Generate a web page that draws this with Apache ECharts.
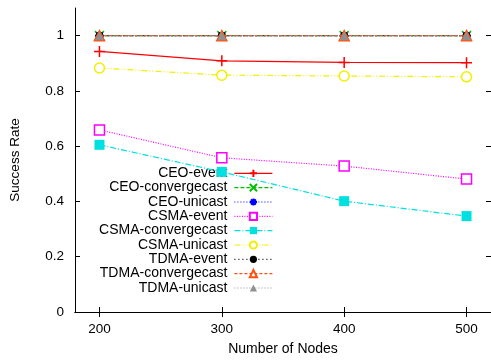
<!DOCTYPE html>
<html><head><meta charset="utf-8">
<script src="https://cdn.jsdelivr.net/npm/echarts@6/dist/echarts.min.js"></script>
<style>html,body{margin:0;padding:0;background:#fff}#c{width:491px;height:361px}</style>
</head><body><div id="c"></div>
<script>
const nodes = [200, 300, 400, 500];
const xTicks = [200, 300, 400, 500];
const yTicks = [0, 0.2, 0.4, 0.6, 0.8, 1];
const ceoEvent = [0.943, 0.909, 0.903, 0.902];
const ceoConverge = [1, 1, 1, 1];
const ceoUnicast = [1, 1, 1, 1];
const csmaEvent = [0.659, 0.558, 0.528, 0.481];
const csmaConverge = [0.605, 0.507, 0.401, 0.347];
const csmaUnicast = [0.883, 0.857, 0.854, 0.851];
const tdmaEvent = [1, 1, 1, 1];
const tdmaConverge = [1, 1, 1, 1];
const tdmaUnicast = [1, 1, 1, 1];
const seriesNames = ['CEO-event','CEO-convergecast','CEO-unicast','CSMA-event','CSMA-convergecast','CSMA-unicast','TDMA-event','TDMA-convergecast','TDMA-unicast'];
const seriesData = [ceoEvent, ceoConverge, ceoUnicast, csmaEvent, csmaConverge, csmaUnicast, tdmaEvent, tdmaConverge, tdmaUnicast];

const PLUS = 'path://M0,5L10,5M5,0L5,10';
const CROSS = 'path://M0,0L10,10M10,0L0,10';
const STAR = 'path://M0,5L10,5M5,0L5,10M1.5,1.5L8.5,8.5M8.5,1.5L1.5,8.5';
const styles = [
  {c:'#ff0000', t:'solid', sym:PLUS, size:11, open:'stroke'},
  {c:'#00c000', t:[4,2], sym:CROSS, size:9, open:'stroke'},
  {c:'#0000ff', t:[1,2], sym:STAR, size:9, open:'stroke'},
  {c:'#ff00ff', t:[1,1.5], sym:'rect', size:10, open:'open'},
  {c:'#00e0e0', t:[6,2,1,2], sym:'rect', size:10, open:'fill'},
  {c:'#f0f000', t:[6,2,1,2,1,2], sym:'circle', size:10, open:'open'},
  {c:'#000000', t:[1,3], sym:'circle', size:8, open:'fill'},
  {c:'#ff5010', t:[3,2], sym:'triangle', size:10, open:'open'},
  {c:'#909090', t:[1,2], sym:'triangle', size:9, open:'fill'}
];

const series = seriesNames.map((n, i) => {
  const s = styles[i];
  let itemStyle;
  if (s.open === 'stroke') itemStyle = {color: s.c, borderColor: s.c, borderWidth: 1.5};
  else if (s.open === 'open') itemStyle = {color: '#ffffff', borderColor: s.c, borderWidth: 1.5};
  else itemStyle = {color: s.c, borderWidth: 0};
  return {
    name: n, type: 'line', xAxisIndex: 0, yAxisIndex: 0,
    data: nodes.map((x, k) => [x, seriesData[i][k]]),
    symbol: s.sym, symbolSize: s.size, showAllSymbol: true,
    lineStyle: {color: s.c, width: 1.2, type: s.t},
    itemStyle: itemStyle,
    emphasis: {disabled: true},
    animation: false, z: 2 + i
  };
});

const legendCenters = [173.3, 187.6, 202, 216.3, 230.6, 245, 259.3, 273.6, 288];
const legends = seriesNames.map((n, i) => ({
  data: [n], orient: 'vertical', align: 'right', right: 218, top: legendCenters[i] - 7,
  padding: 0, itemWidth: 38, itemHeight: 9, selectedMode: false,
  lineStyle: {width: 1.2},
  textStyle: {fontFamily: 'Liberation Sans', fontSize: 14, color: '#000', lineHeight: 14, padding: [0, 2, 0, 0]},
  backgroundColor: 'transparent'
}));

const axLine = {show: true, lineStyle: {color: '#000', width: 1}};
const opt = {
  animation: false,
  backgroundColor: '#fff',
  grid: {left: 73, top: 8, right: -4, bottom: 49, containLabel: false},
  legend: legends,
  xAxis: [
    {type: 'value', min: 180, max: 520, position: 'bottom',
     axisLine: axLine, splitLine: {show: false},
     axisTick: {show: true, inside: true, length: 5, customValues: xTicks, lineStyle: {color: '#000'}},
     axisLabel: {customValues: xTicks, fontFamily: 'Liberation Sans', fontSize: 13.5, color: '#000', margin: 10},
     name: 'Number of Nodes', nameLocation: 'middle', nameGap: 30,
     nameTextStyle: {fontFamily: 'Liberation Sans', fontSize: 14, color: '#000'}},
    {type: 'value', min: 180, max: 520, position: 'top',
     axisLine: axLine, splitLine: {show: false},
     axisTick: {show: true, inside: true, length: 5, customValues: xTicks, lineStyle: {color: '#000'}},
     axisLabel: {show: false}}
  ],
  yAxis: [
    {type: 'value', min: 0, max: 1.1, position: 'left',
     axisLine: axLine, splitLine: {show: false},
     axisTick: {show: true, inside: true, length: 5, customValues: yTicks, lineStyle: {color: '#000'}},
     axisLabel: {customValues: yTicks, fontFamily: 'Liberation Sans', fontSize: 13.5, color: '#000', margin: 11},
     name: 'Success Rate', nameLocation: 'middle', nameGap: 53, nameRotate: 90,
     nameTextStyle: {fontFamily: 'Liberation Sans', fontSize: 13.5, color: '#000'}},
    {type: 'value', min: 0, max: 1.1, position: 'right',
     axisLine: axLine, splitLine: {show: false},
     axisTick: {show: true, inside: true, length: 5, customValues: yTicks, lineStyle: {color: '#000'}},
     axisLabel: {show: false}}
  ],
  series: series
};
const chart = echarts.init(document.getElementById('c'), null, {renderer: 'canvas'});
chart.setOption(opt);
</script></body></html>
